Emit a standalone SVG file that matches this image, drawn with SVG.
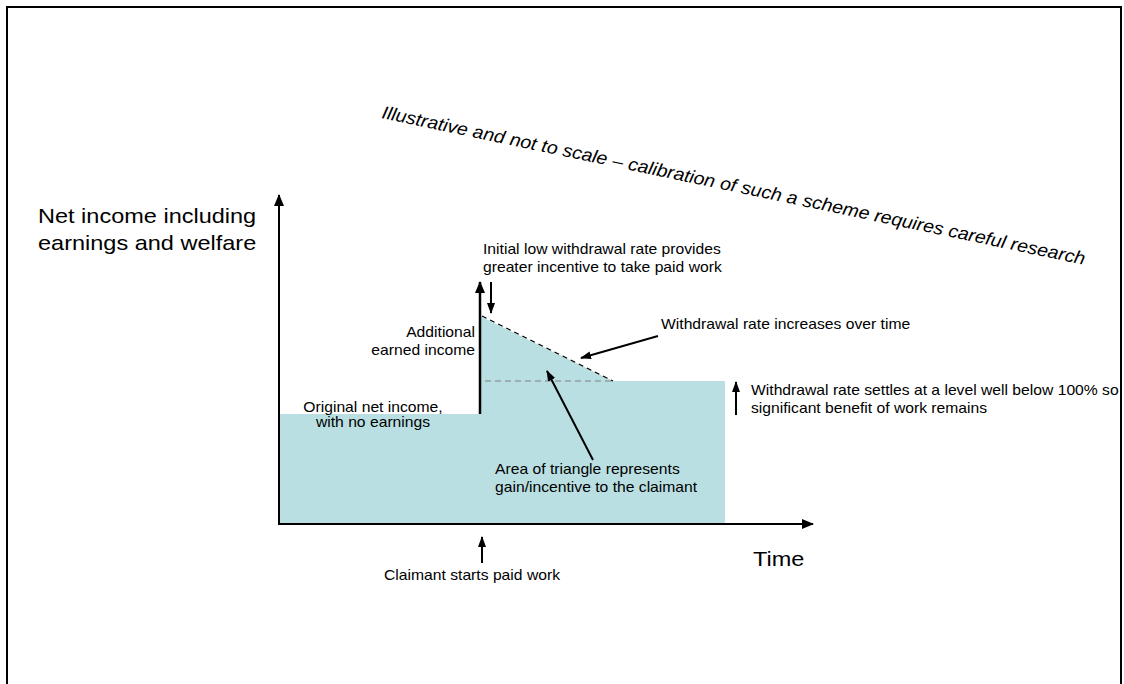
<svg xmlns="http://www.w3.org/2000/svg" width="1124" height="684" viewBox="0 0 1124 684">
<style>
  text { font-family: "Liberation Sans", Arial, sans-serif; fill: #000; }
  .big { font-size: 21px; }
  .sm { font-size: 14px; }
  .ttl { font-size: 18px; font-style: italic; }
  .ln { stroke: #000; stroke-width: 2; fill: none; }
</style>
<defs>
  <marker id="ah" markerUnits="userSpaceOnUse" markerWidth="12" markerHeight="12" viewBox="0 0 12 12" refX="11" refY="6" orient="auto">
    <path d="M0,1 L12,6 L0,11 Z" fill="#000"/>
  </marker>
  <marker id="ahs" markerUnits="userSpaceOnUse" markerWidth="11" markerHeight="10" viewBox="0 0 11 10" refX="10" refY="5" orient="auto">
    <path d="M0,1 L11,5 L0,9 Z" fill="#000"/>
  </marker>
</defs>
<rect width="1124" height="684" fill="#fff"/>
<rect x="7" y="7" width="1114" height="700" fill="none" stroke="#000" stroke-width="2"/>

<g id="area">
  <polygon points="280,414 480,414 480,316 613,381 725,381 725,523 280,523" fill="#B9DFE2"/>
</g>

<g id="title">
  <text class="ttl" transform="translate(381,118) rotate(11.8)" textLength="718" lengthAdjust="spacingAndGlyphs">Illustrative and not to scale – calibration of such a scheme requires careful research</text>
</g>

<g id="connectors">
  <line class="ln" x1="279" y1="524" x2="279" y2="195" marker-end="url(#ah)"/>
  <line class="ln" x1="278" y1="524" x2="813" y2="524" marker-end="url(#ah)"/>
  <line x1="480" y1="414" x2="480" y2="282" stroke="#000" stroke-width="2.5" marker-end="url(#ah)"/>
  <line x1="491" y1="282" x2="491" y2="313" stroke="#000" stroke-width="2" marker-end="url(#ahs)"/>
  <line x1="482" y1="316" x2="613" y2="381" stroke="#000" stroke-width="1.3" stroke-dasharray="5,4"/>
  <line x1="485" y1="381" x2="613" y2="381" stroke="#808080" stroke-width="1" stroke-dasharray="6,4"/>
  <line class="ln" x1="658" y1="336" x2="581" y2="358" marker-end="url(#ahs)"/>
  <line class="ln" x1="593" y1="460" x2="547" y2="371" marker-end="url(#ahs)"/>
  <line x1="736" y1="415" x2="736" y2="382" stroke="#000" stroke-width="2" marker-end="url(#ahs)"/>
  <line x1="482" y1="563" x2="482" y2="537" stroke="#000" stroke-width="2" marker-end="url(#ahs)"/>
</g>

<g id="y-label">
  <text class="big" transform="translate(38,223) scale(1.12,1)"><tspan x="0" y="0">Net income including</tspan><tspan x="0" y="27">earnings and welfare</tspan></text>
</g>
<g id="x-label">
  <text class="big" transform="translate(753,566) scale(1.12,1)">Time</text>
</g>
<g id="initial-rate">
  <text class="sm" transform="translate(483,254) scale(1.12,1)"><tspan x="0" y="0">Initial low withdrawal rate provides</tspan><tspan x="0" y="18">greater incentive to take paid work</tspan></text>
</g>
<g id="additional">
  <text class="sm" text-anchor="end" transform="translate(475,337) scale(1.12,1)"><tspan x="0" y="0">Additional</tspan><tspan x="0" y="18">earned income</tspan></text>
</g>
<g id="original">
  <text class="sm" text-anchor="middle" transform="translate(373,412) scale(1.12,1)"><tspan x="0" y="0">Original net income,</tspan><tspan x="0" y="15">with no earnings</tspan></text>
</g>
<g id="increases">
  <text class="sm" transform="translate(661,329) scale(1.12,1)">Withdrawal rate increases over time</text>
</g>
<g id="settles">
  <text class="sm" transform="translate(751,395) scale(1.12,1)"><tspan x="0" y="0">Withdrawal rate settles at a level well below 100% so</tspan><tspan x="0" y="18">significant benefit of work remains</tspan></text>
</g>
<g id="triangle">
  <text class="sm" transform="translate(495,474) scale(1.12,1)"><tspan x="0" y="0">Area of triangle represents</tspan><tspan x="0" y="18">gain/incentive to the claimant</tspan></text>
</g>
<g id="claimant">
  <text class="sm" transform="translate(384,580) scale(1.12,1)">Claimant starts paid work</text>
</g>
</svg>
